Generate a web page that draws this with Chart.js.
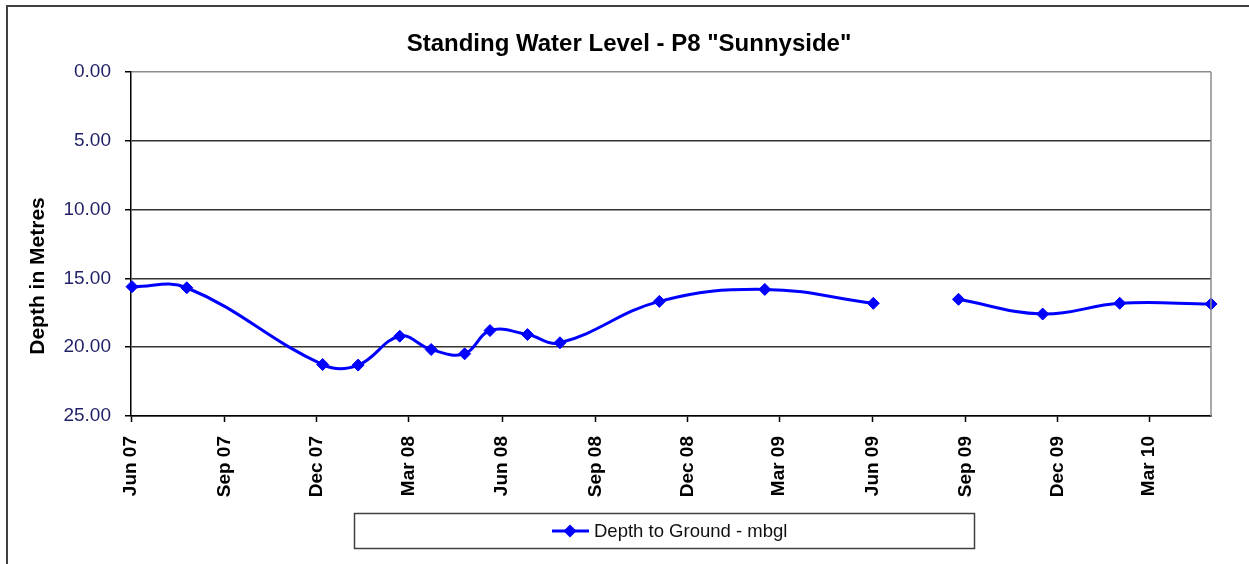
<!DOCTYPE html>
<html>
<head>
<meta charset="utf-8">
<script src="https://cdn.jsdelivr.net/npm/chart.js@4.4.1/dist/chart.umd.min.js"></script>
<style>
  html, body { margin: 0; padding: 0; background: #ffffff; }
  #wrap { width: 1249px; height: 564px; position: relative; }
</style>
</head>
<body>
<div id="wrap"><canvas id="c" width="1249" height="564"></canvas></div>
<script>
// ---- Data ----
const chartTitle = 'Standing Water Level - P8 "Sunnyside"';
const yAxisTitle = 'Depth in Metres';
const seriesLabel = 'Depth to Ground - mbgl';

const sampleDates = ['2007-06-02','2007-07-26','2007-12-07','2008-01-11','2008-02-21','2008-03-23',
                     '2008-04-25','2008-05-20','2008-06-26','2008-07-28','2008-11-03','2009-02-15',
                     '2009-06-02','2009-07-15','2009-08-25','2009-11-16','2010-01-31','2010-05-01'];
const depthValues = [15.60, 15.68, 21.26, 21.30, 19.20, 20.17,
                     20.48, 18.79, 19.08, 19.68, 16.67, 15.80,
                     16.81, null, 16.52, 17.59, 16.81, 16.86];

const tickDates  = ['2007-06-01','2007-09-01','2007-12-01','2008-03-01','2008-06-01','2008-09-01',
                    '2008-12-01','2009-03-01','2009-06-01','2009-09-01','2009-12-01','2010-03-01'];
const tickLabels = ['Jun 07','Sep 07','Dec 07','Mar 08','Jun 08','Sep 08',
                    'Dec 08','Mar 09','Jun 09','Sep 09','Dec 09','Mar 10'];
const axisStartDate = '2007-06-01';
const axisEndDate   = '2010-05-01';

const yMin = 0, yMax = 25, yStep = 5;

// ---- Helpers ----
function dayOf(s) {
  const [y, m, d] = s.split('-').map(Number);
  const [y0, m0, d0] = axisStartDate.split('-').map(Number);
  return Math.round((Date.UTC(y, m - 1, d) - Date.UTC(y0, m0 - 1, d0)) / 86400000);
}
const tickDays = tickDates.map(dayOf);
const points = sampleDates.map((s, i) => ({ x: dayOf(s), y: depthValues[i] }));

const FONT = '"Liberation Sans", Arial, sans-serif';
const BLUE = '#0000ff';

const decor = {
  id: 'decor',
  beforeDraw(chart) {
    const ctx = chart.ctx;
    ctx.save();
    ctx.fillStyle = '#ffffff';
    ctx.fillRect(0, 0, chart.width, chart.height);
    ctx.restore();
  },
  afterDraw(chart) {
    const ctx = chart.ctx;
    const a = chart.chartArea;
    ctx.save();
    // plot-area right border (grey)
    ctx.strokeStyle = '#8c8c8c';
    ctx.lineWidth = 1.5;
    ctx.beginPath();
    ctx.moveTo(a.right, a.top);
    ctx.lineTo(a.right, a.bottom);
    ctx.stroke();

    // outer chart border
    ctx.fillStyle = '#404040';
    ctx.fillRect(6, 5, 2, chart.height);
    ctx.fillRect(6, 5, chart.width, 2);

    // title
    ctx.fillStyle = '#000000';
    ctx.font = 'bold 24px ' + FONT;
    ctx.textAlign = 'center';
    ctx.textBaseline = 'alphabetic';
    ctx.fillText(chartTitle, 629, 51);

    // y axis title
    ctx.save();
    ctx.translate(44, 276);
    ctx.rotate(-Math.PI / 2);
    ctx.font = 'bold 21px ' + FONT;
    ctx.textAlign = 'center';
    ctx.textBaseline = 'alphabetic';
    ctx.fillText(yAxisTitle, 0, 0);
    ctx.restore();

    // legend
    const ds = chart.data.datasets[0];
    ctx.fillStyle = '#ffffff';
    ctx.fillRect(354, 513, 621, 36);
    ctx.strokeStyle = '#404040';
    ctx.lineWidth = 1.5;
    ctx.strokeRect(354.5, 513.5, 620, 35);
    ctx.strokeStyle = ds.borderColor;
    ctx.lineWidth = 3;
    ctx.beginPath();
    ctx.moveTo(552, 531);
    ctx.lineTo(589, 531);
    ctx.stroke();
    ctx.fillStyle = ds.borderColor;
    ctx.beginPath();
    ctx.moveTo(570, 524.5); ctx.lineTo(576.5, 531); ctx.lineTo(570, 537.5); ctx.lineTo(563.5, 531);
    ctx.closePath();
    ctx.fill();
    ctx.fillStyle = '#111111';
    ctx.font = '18.5px ' + FONT;
    ctx.textAlign = 'left';
    ctx.textBaseline = 'middle';
    ctx.fillText(ds.label, 594, 532);
    ctx.restore();
  }
};

new Chart(document.getElementById('c'), {
  type: 'line',
  data: {
    datasets: [{
      label: seriesLabel,
      data: points,
      borderColor: BLUE,
      backgroundColor: BLUE,
      borderWidth: 3,
      pointStyle: 'rectRot',
      pointRadius: 6,
      pointBorderWidth: 1,
      pointBackgroundColor: BLUE,
      pointBorderColor: BLUE,
      tension: 0.4,
      spanGaps: false,
      clip: false,
      fill: false
    }]
  },
  options: {
    responsive: false,
    animation: false,
    devicePixelRatio: 1,
    layout: { padding: { top: 72, right: 38, left: 0, bottom: 0 } },
    plugins: {
      legend: { display: false },
      title: { display: false },
      tooltip: { enabled: false }
    },
    scales: {
      x: {
        type: 'linear',
        min: dayOf(axisStartDate),
        max: dayOf(axisEndDate),
        afterBuildTicks(scale) { scale.ticks = tickDays.map(v => ({ value: v })); },
        afterFit(scale) { scale.height = 148; },
        grid: { drawOnChartArea: false, drawTicks: true, tickLength: 6, tickColor: '#000000', tickWidth: 1.5 },
        border: { display: true, color: '#000000', width: 1.5 },
        ticks: {
          autoSkip: false,
          maxRotation: 90,
          minRotation: 90,
          padding: 14,
          color: '#000000',
          font: { family: FONT, size: 19, weight: 'bold' },
          callback(value) {
            const i = tickDays.indexOf(value);
            return i >= 0 ? tickLabels[i] : '';
          }
        }
      },
      y: {
        type: 'linear',
        reverse: true,
        min: yMin,
        max: yMax,
        afterFit(scale) { scale.width = 131; },
        grid: {
          drawTicks: true,
          tickLength: 6,
          tickColor: '#000000',
          color: (c) => (c.tick && c.tick.value === yMin ? '#8c8c8c' : '#333333'),
          lineWidth: 1.5
        },
        border: { display: true, color: '#000000', width: 1.5 },
        ticks: {
          stepSize: yStep,
          padding: 14,
          color: '#1f1f66',
          font: { family: FONT, size: 19 },
          callback(value) { return Number(value).toFixed(2); }
        }
      }
    }
  },
  plugins: [decor]
});
</script>
</body>
</html>
